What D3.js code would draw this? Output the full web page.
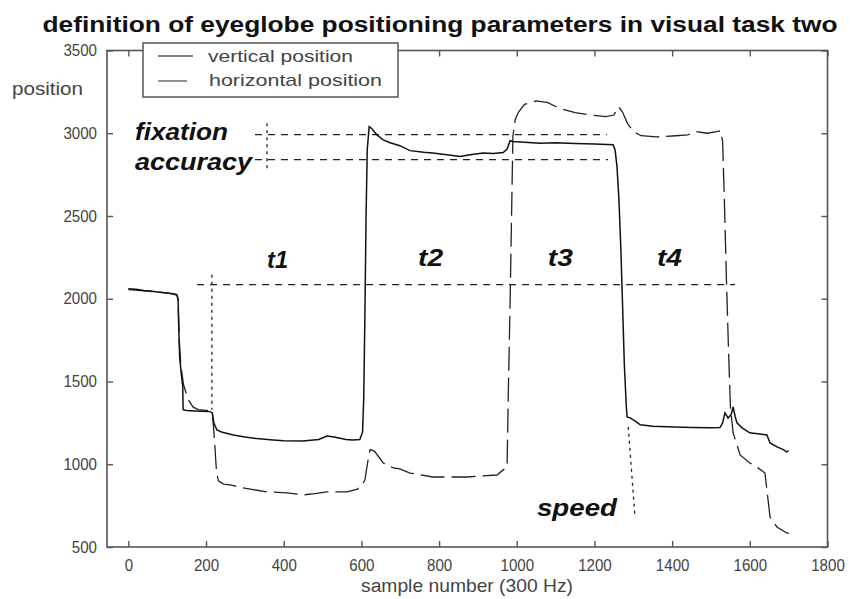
<!DOCTYPE html>
<html><head><meta charset="utf-8">
<script src="https://cdn.jsdelivr.net/npm/d3@7"></script>
<style>body{margin:0;background:#fff}svg{display:block}</style>
</head><body><svg id="c" width="850" height="599"></svg>
<script>
// ---- data ----
const titleText = "definition of eyeglobe positioning parameters in visual task two";
const xTicks = [0,200,400,600,800,1000,1200,1400,1600,1800];
const yTicks = [500,1000,1500,2000,2500,3000,3500];
const seriesNames = ["vertical position","horizontal position"];
const verticalPos = [[0,2060],[20,2058],[40,2050],[60,2045],[80,2040],[100,2035],[115,2030],[125,2025],[128,2000],[130,1800],[132,1650],[136,1550],[140,1470],[141,1330],[150,1325],[170,1322],[190,1320],[210,1318],[216,1310],[220,1250],[228,1207],[240,1195],[270,1177],[300,1165],[330,1155],[373,1147],[400,1142],[450,1140],[490,1150],[511,1171],[530,1165],[560,1150],[578,1147],[596,1150],[603,1195],[606,1400],[609,1900],[612,2500],[615,2900],[620,3040],[626,3030],[640,2990],[656,2960],[674,2943],[699,2925],[725,2895],[760,2885],[784,2880],[820,2870],[854,2860],[880,2870],[913,2880],[940,2878],[965,2883],[975,2905],[983,2955],[990,2950],[1020,2945],[1060,2940],[1100,2942],[1150,2938],[1200,2935],[1248,2931],[1253,2900],[1258,2800],[1263,2600],[1268,2300],[1272,1990],[1277,1600],[1282,1350],[1284,1286],[1292,1280],[1305,1260],[1318,1238],[1350,1230],[1387,1226],[1450,1222],[1500,1220],[1523,1222],[1530,1250],[1536,1310],[1544,1280],[1552,1300],[1557,1347],[1562,1290],[1567,1250],[1580,1220],[1600,1190],[1620,1185],[1644,1177],[1652,1129],[1670,1105],[1685,1090],[1695,1075],[1700,1082]];
const horizontalPos = [[0,2055],[40,2048],[80,2040],[115,2030],[125,2020],[128,1990],[131,1750],[135,1600],[142,1480],[154,1390],[167,1345],[180,1330],[200,1325],[216,1320],[220,1200],[223,1100],[227,950],[232,900],[245,880],[262,875],[295,857],[357,833],[409,827],[451,815],[480,822],[511,833],[563,833],[590,850],[600,870],[609,905],[616,1010],[622,1087],[628,1085],[635,1075],[656,1008],[682,978],[699,972],[725,947],[784,923],[872,923],[949,935],[965,966],[975,980],[978,1400],[983,2000],[988,2700],[990,2980],[996,3083],[1005,3130],[1020,3175],[1050,3195],[1080,3185],[1110,3150],[1150,3125],[1190,3110],[1230,3100],[1250,3110],[1262,3160],[1272,3130],[1285,3060],[1300,3010],[1320,2985],[1360,2978],[1410,2985],[1440,2990],[1460,3010],[1490,3000],[1515,3010],[1525,3015],[1530,2950],[1535,2550],[1540,2100],[1545,1700],[1550,1350],[1557,1190],[1575,1056],[1600,1008],[1621,978],[1639,947],[1647,784],[1652,682],[1670,621],[1695,585],[1700,583]];
// annotation guide lines: [x1,y1,x2,y2] in data units
const guideDashed = [[326,2992,1232,2992],[326,2841,1235,2841],[177,2085,1562,2085]];
const guideDotted = [[357,3060,357,2768],[215,2145,215,1330],[1287,1226,1304,693]];
// annotation labels: [text, x, y, width]
const annoLabels = [["fixation",17,2961,93],["accuracy",17,2775,117],["t1",357,2187,21],["t2",746,2195,25],["t3",1080,2195,25],["t4",1361,2195,25],["speed",1052,687,80]];

// ---- chart ----
const svg = d3.select("#c");
const L=107, R=827.5, T=50.5, B=547;
const x = d3.scaleLinear().domain([-55,1800]).range([L,R]);
const y = d3.scaleLinear().domain([500,3500]).range([B,T]);
const axisCol = "#555", txtCol = "#444";

svg.append("text").attr("x",440).attr("y",32).attr("text-anchor","middle")
  .attr("font-family","Liberation Sans, Arial, sans-serif").attr("font-weight","bold")
  .attr("font-size",22).attr("fill","#111")
  .attr("textLength",795).attr("lengthAdjust","spacingAndGlyphs").text(titleText);

// frame
svg.append("rect").attr("x",L).attr("y",T).attr("width",R-L).attr("height",B-T)
  .attr("fill","none").attr("stroke",axisCol).attr("stroke-width",1.6);

const tl = 6;
const ax = svg.append("g");
const xb = ax.append("g").attr("transform",`translate(0,${B})`)
  .call(d3.axisBottom(x).tickValues(xTicks).tickSize(-tl).tickPadding(10).tickFormat(d3.format("d")));
const xt = ax.append("g").attr("transform",`translate(0,${T})`)
  .call(d3.axisTop(x).tickValues(xTicks).tickSize(-tl).tickFormat(""));
const yl = ax.append("g").attr("transform",`translate(${L},0)`)
  .call(d3.axisLeft(y).tickValues(yTicks).tickSize(-tl).tickPadding(10).tickFormat(d3.format("d")));
const yr = ax.append("g").attr("transform",`translate(${R},0)`)
  .call(d3.axisRight(y).tickValues(yTicks).tickSize(-tl).tickFormat(""));
ax.selectAll(".domain").remove();
ax.selectAll(".tick line").attr("stroke",axisCol).attr("stroke-width",1.4);
ax.selectAll(".tick text").attr("font-family","Liberation Sans, Arial, sans-serif")
  .attr("font-size",16).attr("fill",txtCol)
  .attr("textLength",function(){return this.textContent.length*8.4;})
  .attr("lengthAdjust","spacingAndGlyphs");
xb.selectAll(".tick text").attr("dy","0.9em");

// axis labels
svg.append("text").attr("x",467).attr("y",592).attr("text-anchor","middle")
  .attr("font-family","Liberation Sans, Arial, sans-serif").attr("font-size",18).attr("fill",txtCol)
  .attr("textLength",212).attr("lengthAdjust","spacingAndGlyphs").text("sample number (300 Hz)");
svg.append("text").attr("x",12).attr("y",95)
  .attr("font-family","Liberation Sans, Arial, sans-serif").attr("font-size",18).attr("fill",txtCol)
  .attr("textLength",71).attr("lengthAdjust","spacingAndGlyphs").text("position");

// guides
const plot = svg.append("g");
plot.selectAll("line.gd").data(guideDashed).join("line").attr("class","gd")
  .attr("x1",d=>x(d[0])).attr("y1",d=>y(d[1])).attr("x2",d=>x(d[2])).attr("y2",d=>y(d[3]))
  .attr("stroke","#222").attr("stroke-width",1.3).attr("stroke-dasharray","7,6");
plot.selectAll("line.gt").data(guideDotted).join("line").attr("class","gt")
  .attr("x1",d=>x(d[0])).attr("y1",d=>y(d[1])).attr("x2",d=>x(d[2])).attr("y2",d=>y(d[3]))
  .attr("stroke","#222").attr("stroke-width",1.3).attr("stroke-dasharray","3,4");

// series
const line = d3.line().x(d=>x(d[0])).y(d=>y(d[1]));
plot.append("path").datum(horizontalPos).attr("d",line).attr("fill","none")
  .attr("stroke","#222").attr("stroke-width",1.3).attr("stroke-dasharray","24,7");
plot.append("path").datum(verticalPos).attr("d",line).attr("fill","none")
  .attr("stroke","#111").attr("stroke-width",1.5);

// annotation labels
plot.selectAll("text.an").data(annoLabels).join("text").attr("class","an")
  .attr("x",d=>x(d[1])).attr("y",d=>y(d[2]))
  .attr("font-family","Liberation Sans, Arial, sans-serif").attr("font-weight","bold")
  .attr("font-style","italic").attr("font-size",23).attr("fill","#111")
  .attr("textLength",d=>d[3]).attr("lengthAdjust","spacingAndGlyphs").text(d=>d[0]);

// legend
const lg = svg.append("g");
lg.append("rect").attr("x",143).attr("y",43).attr("width",255).attr("height",54)
  .attr("fill","#fff").attr("stroke",axisCol).attr("stroke-width",1.5);
lg.append("line").attr("x1",158).attr("x2",193).attr("y1",56).attr("y2",56).attr("stroke","#555").attr("stroke-width",1.3);
lg.append("line").attr("x1",158).attr("x2",187).attr("y1",81).attr("y2",81).attr("stroke","#555").attr("stroke-width",1.3);
lg.selectAll("text").data(seriesNames).join("text")
  .attr("x",(d,i)=>i?209:208).attr("y",(d,i)=>i?86:62)
  .attr("font-family","Liberation Sans, Arial, sans-serif").attr("font-size",17).attr("fill",txtCol)
  .attr("textLength",(d,i)=>i?173:145).attr("lengthAdjust","spacingAndGlyphs").text(d=>d);
</script></body></html>
